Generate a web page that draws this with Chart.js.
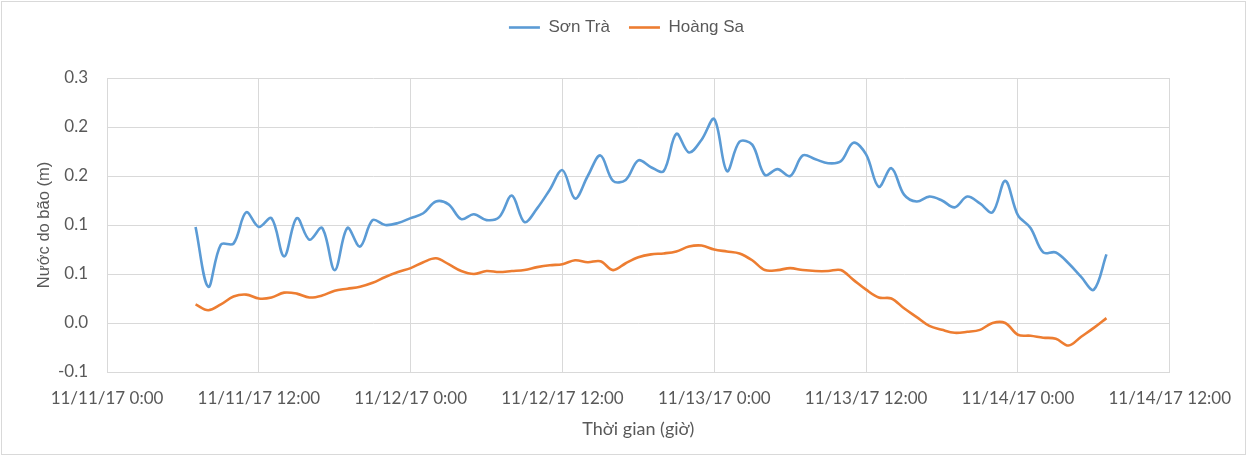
<!DOCTYPE html>
<html>
<head>
<meta charset="utf-8">
<script src="https://cdn.jsdelivr.net/npm/chart.js@4"></script>
<style>
  html, body { margin: 0; padding: 0; background: #ffffff; }
  #wrap { width: 1247px; height: 456px; position: relative; }
</style>
</head>
<body>
<div id="wrap"><canvas id="c" width="1247" height="456"></canvas></div>
<script>
// Hours since 11/11/17 0:00
const hours = [7,8,9,10,11,12,13,14,15,16,17,18,19,20,21,22,23,24,25,26,27,28,29,30,31,32,33,34,35,36,37,38,39,40,41,42,43,44,45,46,47,48,49,50,51,52,53,54,55,56,57,58,59,60,61,62,63,64,65,66,67,68,69,70,71,72,73,74,75,76,77,78,79];

const sonTra = [0.098,0.037,0.080,0.081,0.113,0.098,0.107,0.068,0.107,0.085,0.097,0.054,0.097,
  0.078,0.105,0.100,0.102,0.107,0.112,0.124,0.121,0.106,0.111,0.105,0.108,
  0.130,0.103,0.117,0.136,0.156,0.127,0.150,0.171,0.145,0.146,0.166,0.159,
  0.155,0.193,0.174,0.187,0.208,0.155,0.185,0.182,0.151,0.157,0.150,0.171,
  0.167,0.163,0.165,0.184,0.172,0.139,0.158,0.131,0.124,0.129,0.125,0.118,
  0.129,0.122,0.113,0.145,0.110,0.097,0.072,0.072,0.061,0.047,0.034,0.070];

const hoangSa = [0.019,0.013,0.019,0.027,0.029,0.025,0.026,0.031,0.030,0.026,0.028,0.033,0.035,
  0.037,0.041,0.047,0.052,0.056,0.062,0.066,0.060,0.053,0.050,0.053,0.052,
  0.053,0.054,0.057,0.059,0.060,0.064,0.062,0.063,0.054,0.061,0.067,0.070,
  0.071,0.073,0.078,0.079,0.075,0.073,0.071,0.064,0.054,0.054,0.056,0.054,
  0.053,0.053,0.054,0.044,0.034,0.026,0.025,0.015,0.006,-0.003,-0.007,-0.010,
  -0.009,-0.007,0.000,0.000,-0.012,-0.013,-0.015,-0.016,-0.023,-0.014,-0.005,0.005];

const xTickLabels = ["11/11/17 0:00","11/11/17 12:00","11/12/17 0:00","11/12/17 12:00","11/13/17 0:00","11/13/17 12:00","11/14/17 0:00","11/14/17 12:00"];
const yTickLabels = ["-0.1","0.0","0.1","0.1","0.2","0.2","0.3"];

const seriesNames = ["Sơn Trà", "Hoàng Sa"];
const xTitle = "Thời gian (giờ)";
const yTitle = "Nước do bão (m)";

const FONT = "Lato, 'Open Sans', sans-serif";
const SANS = "'Liberation Sans', Arial, sans-serif";
const TXT = "#595959";
const GRID = "#d9d9d9";

const toPts = (vals) => hours.map((h, i) => ({ x: h, y: vals[i] }));

const frame = {
  id: 'frame',
  beforeDraw(chart) {
    const ctx = chart.ctx;
    ctx.save();
    ctx.fillStyle = '#ffffff';
    ctx.fillRect(0, 0, chart.width, chart.height);
    ctx.strokeStyle = GRID;
    ctx.lineWidth = 1;
    ctx.strokeRect(1.5, 1.5, chart.width - 3, chart.height - 3);
    ctx.restore();
  }
};

const legendFix = {
  id: 'legendFix',
  beforeLayout(chart) {
    const lg = chart.legend;
    if (lg && !lg._patchedFit) {
      const orig = lg.fit;
      lg.fit = function () { orig.call(this); this.height = 78; };
      lg._patchedFit = true;
    }
  },
  afterLayout(chart) {
    const lg = chart.legend;
    if (lg) {
      lg.right = chart.width + 6;
      lg.width = lg.right - lg.left;
    }
  }
};

new Chart(document.getElementById('c'), {
  type: 'line',
  data: {
    datasets: [
      { label: seriesNames[0], data: toPts(sonTra), borderColor: '#5B9BD5', backgroundColor: '#5B9BD5',
        borderWidth: 2.6, pointRadius: 0, tension: 0.35, fill: false, pointStyle: 'line' },
      { label: seriesNames[1], data: toPts(hoangSa), borderColor: '#ED7D31', backgroundColor: '#ED7D31',
        borderWidth: 2.6, pointRadius: 0, tension: 0.35, fill: false, pointStyle: 'line' }
    ]
  },
  options: {
    responsive: false,
    animation: false,
    layout: { padding: { left: 0, right: 75, top: 0, bottom: 0 } },
    plugins: {
      legend: {
        position: 'top',
        labels: {
          usePointStyle: true, pointStyleWidth: 31, boxHeight: 17,
          padding: 19, color: TXT,
          font: { family: SANS, size: 17 }
        }
      },
      tooltip: { enabled: false }
    },
    scales: {
      x: {
        type: 'linear', min: 0, max: 84,
        afterFit(scale) { scale.height = 84; },
        ticks: {
          stepSize: 12, autoSkip: false, maxRotation: 0, padding: 16,
          color: TXT, font: { family: FONT, size: 17 },
          callback: (v, i) => xTickLabels[i]
        },
        grid: { color: GRID, lineWidth: 1, drawTicks: false },
        border: { color: GRID },
        title: { display: true, text: xTitle, color: TXT, font: { family: FONT, size: 18 },
                 padding: { top: 4, bottom: 16 } }
      },
      y: {
        min: -0.05, max: 0.25,
        afterFit(scale) { scale.width = 107; },
        ticks: {
          stepSize: 0.05, padding: 19, color: TXT, font: { family: FONT, size: 17 },
          callback: (v, i) => yTickLabels[i]
        },
        grid: { color: GRID, lineWidth: 1, drawTicks: false },
        border: { color: GRID },
        title: { display: true, text: yTitle, color: TXT, font: { family: SANS, size: 16.5 },
                 padding: { top: 35, bottom: 0 } }
      }
    }
  },
  plugins: [frame, legendFix]
});
</script>
</body>
</html>
